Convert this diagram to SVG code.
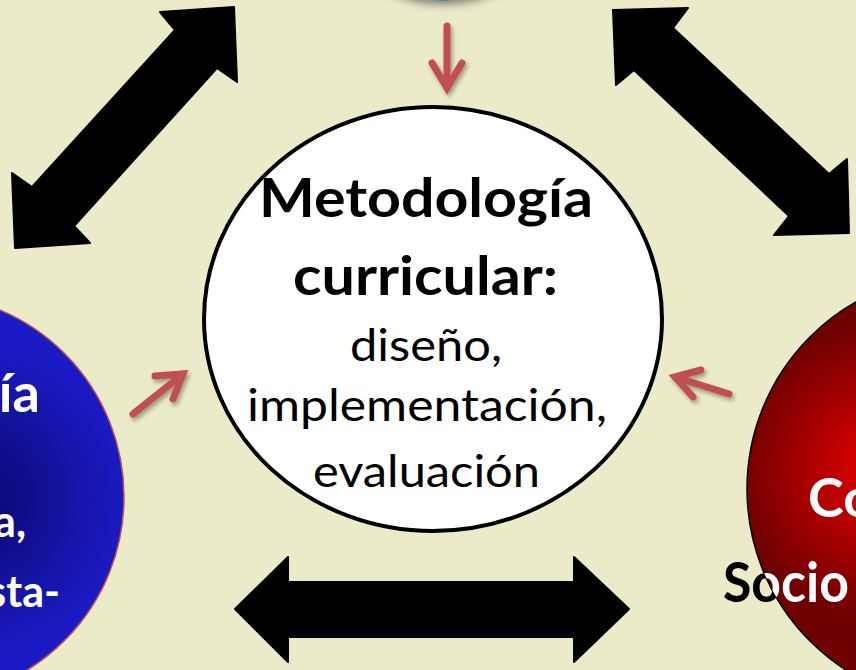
<svg xmlns="http://www.w3.org/2000/svg" width="856" height="670" viewBox="0 0 856 670">
<defs>
<style>
.bold{font-family:Lato,"Liberation Sans",sans-serif;font-weight:bold;}
.reg{font-family:Lato,"Liberation Sans",sans-serif;font-weight:normal;}
.big{font-size:54px;}
.mid{font-size:44px;}
.red-arrow{fill:none;stroke:#c0504d;stroke-width:7;stroke-linecap:round;stroke-linejoin:miter;stroke-miterlimit:10;filter:url(#sh);}
.black-arrow{fill:#000;stroke:#000;stroke-width:2;stroke-linejoin:round;}
</style>
<filter id="sh" x="-30%" y="-30%" width="160%" height="160%">
<feDropShadow dx="2" dy="3" stdDeviation="2" flood-color="#000" flood-opacity="0.35"/>
</filter>
<filter id="csh" x="-30%" y="-20%" width="160%" height="150%">
<feDropShadow dx="0" dy="3" stdDeviation="5" flood-color="#000" flood-opacity="0.5"/>
</filter>
<radialGradient id="blueG" gradientUnits="userSpaceOnUse" cx="-30" cy="500" r="160">
<stop offset="0" stop-color="#08086a"/>
<stop offset="1" stop-color="#1b1bc6"/>
</radialGradient>
<radialGradient id="redG" gradientUnits="userSpaceOnUse" cx="885" cy="470" r="150">
<stop offset="0" stop-color="#ec0000"/>
<stop offset="1" stop-color="#6e0000"/>
</radialGradient>
<pattern id="socioFill" patternUnits="userSpaceOnUse" x="0" y="0" width="856" height="670">
<rect x="0" y="0" width="856" height="670" fill="#000"/>
<circle cx="962" cy="489" r="215" fill="#fff"/>
</pattern>
</defs>
<rect x="0" y="0" width="856" height="670" fill="#ebebc9"/>

<g id="top-node">
<circle cx="443" cy="-128" r="129" fill="#4f81bd" filter="url(#csh)"/>
</g>

<g id="left-node">
<circle cx="-79" cy="497" r="203" fill="url(#blueG)" stroke="#c0504d" stroke-width="1.5"/>
<text class="bold big" x="40" y="412" text-anchor="end" fill="#fff">ía</text>
<text class="bold" font-size="43" x="26" y="537" text-anchor="end" fill="#fff">a,</text>
<text class="bold" font-size="43" x="60" y="607" text-anchor="end" fill="#fff">sta-</text>
</g>

<g id="right-node">
<circle cx="962" cy="489" r="215" fill="url(#redG)" stroke="#000" stroke-width="1.5"/>
<text class="bold big" x="808" y="517" fill="#fff">Co</text>
<text class="bold" font-size="55" x="723" y="602" textLength="126" lengthAdjust="spacingAndGlyphs" fill="url(#socioFill)">Socio</text>
</g>

<g id="center-node">
<ellipse cx="433" cy="319" rx="229" ry="212" fill="#fff" stroke="#000" stroke-width="4"/>
<text class="bold big" x="259" y="217" textLength="334" lengthAdjust="spacingAndGlyphs" fill="#000">Metodología</text>
<text class="bold big" x="293" y="295" textLength="265" lengthAdjust="spacingAndGlyphs" fill="#000">curricular:</text>
<text class="reg mid" x="350" y="361" textLength="152" lengthAdjust="spacingAndGlyphs" fill="#000">diseño,</text>
<text class="reg mid" x="247" y="421" textLength="360" lengthAdjust="spacingAndGlyphs" fill="#000">implementación,</text>
<text class="reg mid" x="313" y="487" textLength="227" lengthAdjust="spacingAndGlyphs" fill="#000">evaluación</text>
</g>

<g id="connectors">
<polygon class="black-arrow" points="234,7 237,82 217,68 74,226 90,243 15,248 12,173 32,187 175,30 160,12"/>
<polygon class="black-arrow" points="613,10 688,8 673,28 829,174 847,159 849,233 774,235 789,216 634,70 616,85"/>
<polygon class="black-arrow" points="235,609 288,557 288,582 574,582 574,557 629,609 574,662 574,637 288,637 288,662"/>
<g class="red-arrow">
<path d="M447,26 L447,88 M432,63 L447,88 L462,63"/>
<path d="M133,414 L183,374 M155,376 L183,374 L173,399"/>
<path d="M729,394 L675,377 M701,370 L675,377 L693,397"/>
</g>
</g>
</svg>
